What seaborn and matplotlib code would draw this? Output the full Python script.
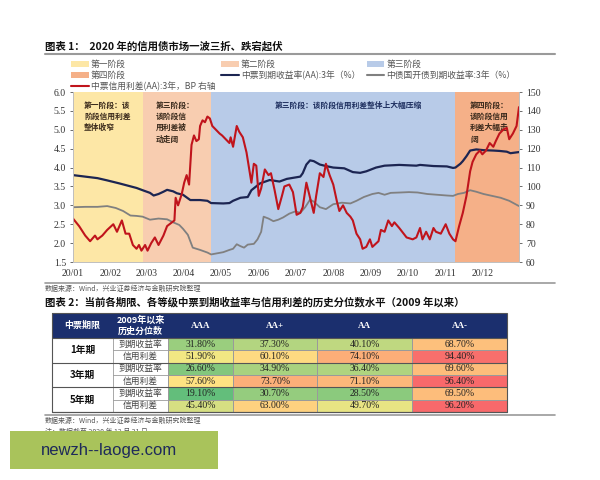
import numpy as np
import pandas as pd
import matplotlib
matplotlib.use("Agg")
import matplotlib.pyplot as plt
from matplotlib.patches import Patch, Rectangle
from matplotlib.lines import Line2D
from matplotlib.colors import LinearSegmentedColormap, TwoSlopeNorm
import seaborn as sns

sns.set_style("white")
plt.rcParams["font.family"] = ["Noto Sans CJK SC", "DejaVu Sans"]
plt.rcParams["axes.unicode_minus"] = False

W, H = 600, 480
SERIF = ["Liberation Serif", "Noto Sans CJK SC"]
NAVY = "#1c2552"
GRAY = "#808080"
RED = "#c0141c"
HDR = "#1b2f6e"

# --- chart 1 data (x = days since 2020-01-01) ---
yield_day = [0, 10, 20, 28, 38, 45, 52, 57, 63, 66, 70, 74, 77, 82, 85, 90, 96, 104, 110, 113,
             123, 128, 131, 137, 143, 146, 153, 161, 169, 175, 186, 188, 191, 194, 197, 202, 207, 213, 222, 229,
             235, 240, 248, 255, 267, 281, 284, 295, 306, 311, 313, 317, 319, 322, 325, 330, 336, 344, 349, 355,
             358, 365]
aa_yield = [3.80, 3.76, 3.72, 3.66, 3.58, 3.52, 3.46, 3.40, 3.33, 3.26, 3.30, 3.36, 3.41, 3.37, 3.32, 3.28, 3.14, 3.14, 3.12, 3.06,
            3.05, 3.06, 3.12, 3.20, 3.22, 3.40, 3.58, 3.67, 3.63, 3.70, 3.76, 3.85, 4.08, 4.19, 4.17, 4.08, 4.04, 4.00, 3.98, 3.88,
            3.86, 3.90, 4.00, 4.05, 4.07, 4.05, 4.07, 4.04, 4.03, 3.99, 4.00, 4.10, 4.17, 4.30, 4.45, 4.48, 4.46, 4.45, 4.44, 4.42,
            4.38, 4.41]

cdb_day = [0, 10, 20, 28, 35, 41, 47, 52, 57, 63, 70, 77, 82, 87, 90, 94, 98, 104, 110, 113,
           118, 123, 128, 131, 134, 137, 140, 143, 148, 151, 154, 156, 160, 164, 168, 172, 177, 182, 186, 190,
           194, 197, 202, 207, 213, 220, 227, 232, 238, 245, 250, 255, 260, 268, 275, 282, 290, 298, 306, 311,
           315, 320, 325, 330, 336, 343, 350, 357, 365]
cdb_yield = [2.95, 2.96, 2.96, 2.98, 2.93, 2.85, 2.73, 2.72, 2.70, 2.62, 2.65, 2.63, 2.55, 2.48, 2.38, 2.22, 1.88, 1.82, 1.75, 1.70,
             1.73, 1.76, 1.82, 1.85, 1.97, 1.92, 1.88, 1.96, 1.98, 2.10, 2.30, 2.70, 2.65, 2.58, 2.62, 2.68, 2.78, 2.84, 2.80, 2.95,
             3.15, 3.10, 2.95, 2.90, 3.03, 3.07, 3.05, 3.12, 3.22, 3.30, 3.33, 3.28, 3.33, 3.34, 3.35, 3.34, 3.30, 3.28, 3.26, 3.25,
             3.30, 3.33, 3.40, 3.36, 3.30, 3.25, 3.20, 3.12, 2.98]

spread_day = [0, 5, 10, 14, 18, 20, 24, 28, 33, 36, 40, 43, 46, 49, 52, 54, 56, 59, 61, 64,
              67, 70, 74, 77, 81, 83, 84, 86, 89, 91, 93, 95, 97, 99, 101, 103, 104, 106, 108, 110,
              112, 114, 117, 120, 122, 125, 128, 129, 131, 134, 136, 139, 142, 144, 146, 148, 150, 152, 154, 157,
              160, 162, 165, 168, 171, 173, 177, 180, 183, 186, 188, 191, 194, 197, 199, 202, 205, 207, 210, 213,
              216, 218, 221, 224, 227, 229, 232, 235, 237, 240, 243, 245, 250, 252, 255, 258, 261, 263, 267, 273,
              278, 281, 284, 286, 289, 292, 295, 297, 301, 305, 308, 311, 313, 316, 319, 322, 325, 327, 330, 333,
              335, 338, 341, 344, 346, 349, 352, 355, 357, 360, 363, 365]
aa_spread_bp = [83, 79, 74, 71, 74, 72, 74, 77, 80, 76, 82, 75, 75, 69, 67, 69, 66, 69, 66, 70,
                73, 69, 74, 79, 81, 82, 94, 90, 96, 102, 106, 101, 122, 127, 124, 125, 132, 135, 134, 137,
                136, 132, 130, 128, 127, 125, 123, 126, 121, 132, 129, 126, 118, 110, 102, 112, 111, 95, 99, 109,
                106, 107, 98, 88, 95, 100, 101, 97, 85, 86, 89, 102, 94, 86, 95, 107, 105, 112, 106, 101,
                92, 87, 90, 86, 84, 82, 75, 72, 67, 68, 72, 68, 71, 77, 76, 82, 79, 81, 78, 73,
                72, 73, 78, 72, 76, 72, 78, 76, 75, 80, 75, 72, 71, 79, 86, 95, 108, 113, 117, 119,
                117, 119, 123, 121, 124, 128, 130, 131, 125, 128, 132, 142]

stage_names = ["第一阶段", "第二阶段", "第三阶段", "第四阶段"]
stage_bounds = ["2020-01-01", "2020-02-27", "2020-04-23", "2020-11-09", "2020-12-31"]
stage_colors = ["#fde7a6", "#f8cdb0", "#b8cbe8", "#f5b088"]
stage_notes = ["第一阶段：该\n阶段信用利差\n整体收窄",
               "第三阶段：\n该阶段信\n用利差被\n动走阔",
               "第三阶段：该阶段信用利差整体上大幅压缩",
               "第四阶段：\n该阶段信用\n利差大幅走\n阔"]
note_dates = ["2020-01-10", "2020-03-09", "2020-06-14", "2020-11-21"]
month_labels = ["20/01", "20/02", "20/03", "20/04", "20/05", "20/06",
                "20/07", "20/08", "20/09", "20/10", "20/11", "20/12"]

# --- table data (percentile since 2009, %) ---
tenors = ["1年期", "3年期", "5年期"]
metrics = ["到期收益率", "信用利差"]
ratings = ["AAA", "AA+", "AA", "AA-"]
ytm_1y = [31.8, 37.3, 40.1, 68.7]
spread_1y = [51.9, 60.1, 74.1, 94.4]
ytm_3y = [26.6, 34.9, 36.4, 69.6]
spread_3y = [57.6, 73.7, 71.1, 96.4]
ytm_5y = [19.1, 30.7, 28.5, 69.5]
spread_5y = [45.4, 63.0, 49.7, 96.2]


def fx(px):
    return px / W


def fy(py):
    return 1 - py / H


def to_dates(days):
    return pd.Timestamp("2020-01-01") + pd.to_timedelta(days, unit="D")


fig = plt.figure(figsize=(W / 100, H / 100), dpi=100)

# --- figure 1 ---
fig.text(fx(45), fy(46), "图表 1：  2020 年的信用债市场一波三折、跌宕起伏",
         fontsize=7.5, fontweight="bold", va="center", color="#111")
fig.add_artist(Line2D([fx(45), fx(555)], [fy(54), fy(54)], color="#9a9a9a", lw=1.5))

ax = fig.add_axes([fx(73), fy(262), 446 / W, 170 / H])
for i in range(4):
    ax.axvspan(pd.Timestamp(stage_bounds[i]), pd.Timestamp(stage_bounds[i + 1]),
               color=stage_colors[i], lw=0, zorder=0)

cdb = pd.DataFrame({"date": to_dates(cdb_day), "value": cdb_yield})
yld = pd.DataFrame({"date": to_dates(yield_day), "value": aa_yield})
spr = pd.DataFrame({"date": to_dates(spread_day), "value": aa_spread_bp})

sns.lineplot(data=cdb, x="date", y="value", ax=ax, color=GRAY, lw=1.3)
sns.lineplot(data=yld, x="date", y="value", ax=ax, color=NAVY, lw=1.6)
ax2 = ax.twinx()
sns.lineplot(data=spr, x="date", y="value", ax=ax2, color=RED, lw=1.5)

ax.set_xlim(pd.Timestamp("2020-01-01"), pd.Timestamp("2020-12-31"))
ax.set_ylim(1.5, 6.0)
ax2.set_ylim(60, 150)
ax.set_yticks(np.arange(1.5, 6.01, 0.5))
ax.set_yticklabels([f"{v:.1f}" for v in np.arange(1.5, 6.01, 0.5)])
ax2.set_yticks(np.arange(60, 151, 10))
ax.set_xticks(pd.date_range("2020-01-01", periods=12, freq="MS"))
ax.set_xticklabels(month_labels)
for a in (ax, ax2):
    a.set_xlabel("")
    a.set_ylabel("")
    a.tick_params(length=2, width=0.5, colors="#333", labelsize=7, pad=3)
    for lbl in a.get_xticklabels() + a.get_yticklabels():
        lbl.set_fontfamily(SERIF)
    for s in a.spines.values():
        s.set_color("#bfbfbf")
        s.set_linewidth(0.6)
    a.spines["top"].set_visible(False)

for i, note in enumerate(stage_notes):
    ax.text(pd.Timestamp(note_dates[i]), 5.78, note, fontsize=5.6, fontweight="bold",
            color="#1f3060" if i == 2 else "#3a2a1c", va="top", ha="left",
            linespacing=1.35, zorder=5)

handles = [Patch(color=c, lw=0) for c in stage_colors]
handles += [Line2D([], [], color=NAVY, lw=1.5), Line2D([], [], color=GRAY, lw=1.5),
            Line2D([], [], color=RED, lw=1.5)]
labels = stage_names + ["中票到期收益率(AA):3年（%）", "中债国开债到期收益率:3年（%）",
                        "中票信用利差(AA):3年，BP 右轴"]
order = [0, 3, 6, 1, 4, 2, 5]
fig.legend([handles[k] for k in order], [labels[k] for k in order], loc="upper left",
           bbox_to_anchor=(fx(71), fy(60)), ncol=3, frameon=False, fontsize=6.3,
           handlelength=2.0, handleheight=0.7, columnspacing=0.7, labelspacing=0.2,
           handletextpad=0.25, borderpad=0, borderaxespad=0, labelcolor="#555")

# --- between the figures ---
fig.add_artist(Line2D([fx(45), fx(555)], [fy(283), fy(283)], color="#9a9a9a", lw=1.2))
fig.text(fx(45), fy(289), "数据来源：Wind，兴业证券经济与金融研究院整理", fontsize=5, color="#555", va="center")
fig.text(fx(45), fy(302), "图表 2：当前各期限、各等级中票到期收益率与信用利差的历史分位数水平（2009 年以来）",
         fontsize=7.5, fontweight="bold", va="center", color="#111")

# --- table ---
col_edges = [52, 113, 168, 233, 317, 412, 507]
top, hdr_bot, bot = 313, 338, 412
row_h = (bot - hdr_bot) / 6

tab = fig.add_axes([fx(52), fy(bot), 455 / W, (bot - top) / H])
tab.set_xlim(52, 507)
tab.set_ylim(bot, top)
tab.axis("off")
tab.add_patch(Rectangle((52, top), 455, hdr_bot - top, color=HDR, lw=0))
header = ["中票期限", "2009年以来\n历史分位数"] + ratings
for j, txt in enumerate(header):
    cx = (col_edges[j] + col_edges[j + 1]) / 2
    tab.text(cx, (top + hdr_bot) / 2, txt, color="white", fontsize=6.5, fontweight="bold",
             ha="center", va="center", linespacing=1.3,
             fontfamily=SERIF if j >= 2 else None)
for g, ten in enumerate(tenors):
    y0 = hdr_bot + 2 * g * row_h
    tab.text((col_edges[0] + col_edges[1]) / 2, y0 + row_h, ten, fontsize=7, fontweight="bold",
             ha="center", va="center", color="#111")
    for k, m in enumerate(metrics):
        tab.text((col_edges[1] + col_edges[2]) / 2, y0 + (k + 0.5) * row_h, m, fontsize=6.3,
                 ha="center", va="center", color="#444")
    tab.plot([col_edges[1], col_edges[2]], [y0 + row_h] * 2, color="#9a9a9a", lw=0.6)
for x in col_edges[1:3]:
    tab.plot([x, x], [hdr_bot, bot], color="#9a9a9a", lw=0.6)

pct = np.array([ytm_1y, spread_1y, ytm_3y, spread_3y, ytm_5y, spread_5y])
cmap = LinearSegmentedColormap.from_list("excel3", ["#63BE7B", "#FFEB84", "#F8696B"])
norm = TwoSlopeNorm(vmin=pct.min(), vcenter=np.median(pct), vmax=pct.max())
for j, r in enumerate(ratings):
    x0, x1 = col_edges[j + 2], col_edges[j + 3]
    hax = fig.add_axes([fx(x0), fy(bot), (x1 - x0) / W, (bot - hdr_bot) / H])
    col = pd.DataFrame({r: pct[:, j]})
    sns.heatmap(col, ax=hax, cmap=cmap, norm=norm, cbar=False,
                annot=np.array([[f"{v:.2f}%"] for v in pct[:, j]]), fmt="",
                annot_kws={"fontsize": 7, "color": "#222", "fontfamily": SERIF},
                linewidths=0.6, linecolor="#9a9a9a", xticklabels=False, yticklabels=False)

for g in range(4):
    yy = hdr_bot + 2 * g * row_h
    fig.add_artist(Line2D([fx(52), fx(507)], [fy(yy), fy(yy)], color="#555", lw=0.8))
fig.add_artist(Rectangle((fx(52), fy(bot)), 455 / W, (bot - top) / H, fill=False,
                         ec="#555", lw=0.8, transform=fig.transFigure))

fig.add_artist(Line2D([fx(45), fx(555)], [fy(415), fy(415)], color="#9a9a9a", lw=1.2))
fig.text(fx(45), fy(421), "数据来源：Wind，兴业证券经济与金融研究院整理", fontsize=5, color="#555", va="center")
fig.text(fx(45), fy(432), "注：数据截至 2020 年 12 月 31 日", fontsize=5, color="#555", va="center")

# watermark box
fig.add_artist(Rectangle((fx(10), fy(469)), 208 / W, 38 / H, color="#a9c35b", lw=0,
                         transform=fig.transFigure, zorder=10))
fig.text(fx(41), fy(451), "newzh--laoge.com", fontsize=12, color="#1e2a5a", va="center",
         fontfamily=["Liberation Sans", "DejaVu Sans"], zorder=11)

fig.savefig("out.png", dpi=100)
